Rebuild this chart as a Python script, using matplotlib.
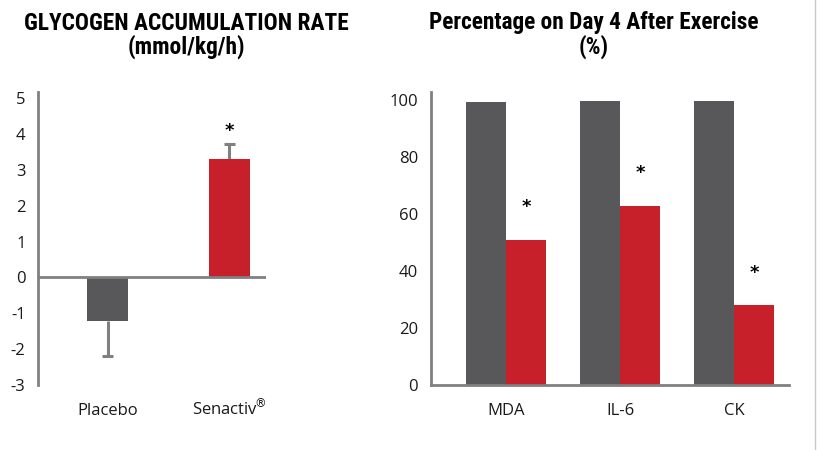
import matplotlib
matplotlib.use("Agg")
import matplotlib.pyplot as plt
from matplotlib.lines import Line2D
from matplotlib import font_manager

plt.rcParams["axes.unicode_minus"] = False

# ---- data ----
left_categories = ["Placebo", "Senactiv$^{\\!\\circledR}$"]
left_values = [-1.22, 3.3]
left_err_low = [0.98, 0.0]
left_err_high = [0.0, 0.42]
left_sig = [False, True]
left_yticks = [-3, -2, -1, 0, 1, 2, 3, 4, 5]

right_categories = ["MDA", "IL-6", "CK"]
right_placebo = [99.3, 99.8, 99.8]
right_senactiv = [51.0, 62.8, 28.0]
right_sig = [True, True, True]
right_yticks = [0, 20, 40, 60, 80, 100]

GREY = "#58585a"
RED = "#c8202a"
AXC = "#808080"
TXT = "#1a1a1a"

fonts = font_manager.fontManager.ttflist
names = {f.name for f in fonts}
title_kw = dict(family="DejaVu Sans", stretch="condensed")
for cand in ["Roboto Condensed", "Liberation Sans Narrow", "Open Sans Condensed"]:
    if cand in names:
        title_kw = dict(family=cand)
        break
else:
    if not any(f.name == "DejaVu Sans" and f.stretch == "condensed" and f.weight in ("bold", 700) for f in fonts):
        title_kw = dict(family="Roboto")
tick_font = "Open Sans"

fig = plt.figure(figsize=(8.17, 4.5), dpi=100)

# ---- left chart ----
ax1 = fig.add_axes([38/817, 65/450, 228/817, 293/450])
x1 = list(range(len(left_values)))
ax1.bar(x1, left_values, width=0.337, color=[GREY, RED], zorder=2)
cap = 0.045
for i, v in enumerate(left_values):
    lo, hi = left_err_low[i], left_err_high[i]
    end = v - lo if lo > 0 else v + hi
    ax1.vlines(i, v, end, color=AXC, lw=2.2, zorder=1)
    ax1.hlines(end, i - cap, i + cap, color=AXC, lw=2.2, zorder=1)
    if left_sig[i]:
        ax1.text(i, v + hi + 0.36, "*", ha="center", va="center",
                 fontsize=13, fontweight="bold", color="black")
ax1.axhline(0, color=AXC, lw=2, zorder=3)
ax1.set_xlim(-0.572, 1.30)
ax1.set_ylim(-3, 5.17)
ax1.set_yticks(left_yticks)
ax1.set_xticks(x1)
ax1.set_xticklabels(left_categories)
for s in ["top", "right", "bottom"]:
    ax1.spines[s].set_visible(False)
ax1.spines["left"].set_color(AXC)
ax1.spines["left"].set_linewidth(2)
ax1.tick_params(axis="both", length=0, labelsize=12, labelcolor=TXT)
ax1.tick_params(axis="y", pad=9)
ax1.tick_params(axis="x", pad=21.5)
for lab in ax1.get_xticklabels():
    lab.set_verticalalignment("baseline")
for lab in ax1.get_xticklabels() + ax1.get_yticklabels():
    lab.set_fontfamily(tick_font)

# ---- right chart ----
ax2 = fig.add_axes([430.7/817, 65/450, 358.3/817, 293.3/450])
w = 0.35
xs = list(range(len(right_categories)))
ax2.bar([x - w/2 for x in xs], right_placebo, width=w, color=GREY)
ax2.bar([x + w/2 for x in xs], right_senactiv, width=w, color=RED)
for i, v in enumerate(right_senactiv):
    if right_sig[i]:
        ax2.text(i + w/2, v + 11.5, "*", ha="center", va="center",
                 fontsize=13, fontweight="bold", color="black")
ax2.set_xlim(-0.66, 2.48)
ax2.set_ylim(0, 103)
ax2.set_yticks(right_yticks)
ax2.set_xticks(xs)
ax2.set_xticklabels(right_categories)
for s in ["top", "right"]:
    ax2.spines[s].set_visible(False)
for s in ["left", "bottom"]:
    ax2.spines[s].set_color(AXC)
    ax2.spines[s].set_linewidth(2)
ax2.tick_params(axis="both", length=0, labelsize=12, labelcolor=TXT)
ax2.tick_params(axis="y", pad=9)
ax2.tick_params(axis="x", pad=21.5)
for lab in ax2.get_xticklabels():
    lab.set_verticalalignment("baseline")
for lab in ax2.get_xticklabels() + ax2.get_yticklabels():
    lab.set_fontfamily(tick_font)

# ---- titles ----
tkw = dict(ha="center", va="center", fontsize=16.8, fontweight="bold", color="black", **title_kw)
fig.text(186/817, 1 - 23/450, "GLYCOGEN ACCUMULATION RATE", **tkw)
fig.text(186/817, 1 - 47/450, "(mmol/kg/h)", **tkw)
fig.text(594/817, 1 - 23/450, "Percentage on Day 4 After Exercise", **tkw)
fig.text(594/817, 1 - 47/450, "(%)", **tkw)

# right border line
fig.add_artist(Line2D([815/817, 815/817], [0, 1], transform=fig.transFigure,
                      color="#c8c8c8", lw=1))

fig.savefig("out.png", dpi=100)
